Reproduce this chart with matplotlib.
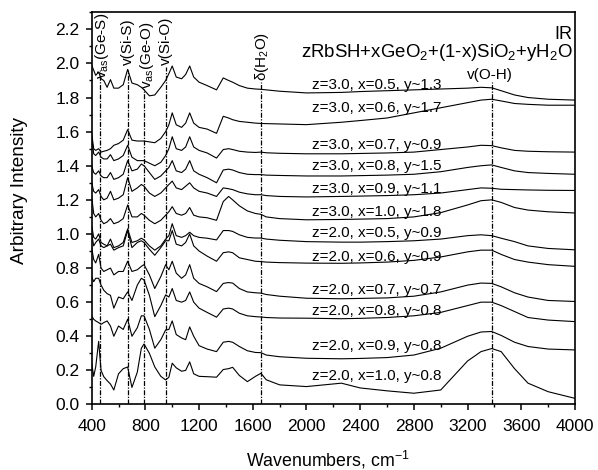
import matplotlib
matplotlib.use("Agg")
import matplotlib.pyplot as plt
from matplotlib.ticker import MultipleLocator

plt.rcParams['font.family'] = ['Liberation Sans', 'DejaVu Sans']
plt.rcParams['mathtext.fontset'] = 'custom'
plt.rcParams['mathtext.rm'] = 'Liberation Sans'
plt.rcParams['mathtext.it'] = 'Liberation Sans:italic'

# common wavenumber grid (cm-1)
wn = [400, 415, 430, 452, 470, 490, 515, 540, 565, 600,
      635, 668, 700, 740, 770, 790, 830, 870, 915, 951,
      975, 1000, 1030, 1070, 1100, 1130, 1160, 1200, 1260, 1330,
      1380, 1420, 1450, 1500, 1560, 1620, 1661, 1700, 1800, 2000,
      2260, 2400, 2600, 2800, 3000, 3200, 3300, 3380, 3450, 3550,
      3650, 3800, 4000]

s_z3_x05 = [1.99, 1.96, 1.93, 1.95, 1.91, 1.90, 1.86, 1.905, 1.855, 1.855,
            1.875, 1.965, 1.885, 1.875, 1.86, 1.845, 1.81, 1.815, 1.86, 1.90,
            1.94, 1.985, 1.92, 1.91, 1.935, 1.985, 1.92, 1.89, 1.87, 1.845,
            1.915, 1.90, 1.89, 1.87, 1.855, 1.85, 1.848, 1.845, 1.837, 1.827,
            1.83, 1.835, 1.84, 1.845, 1.85, 1.855, 1.86, 1.857, 1.84, 1.815,
            1.80, 1.79, 1.785]
s_z3_x06 = [1.59, 1.50, 1.49, 1.50, 1.48, 1.485, 1.49, 1.50, 1.52, 1.53,
            1.55, 1.612, 1.55, 1.545, 1.545, 1.545, 1.54, 1.535, 1.56, 1.60,
            1.64, 1.71, 1.64, 1.625, 1.65, 1.71, 1.65, 1.625, 1.615, 1.59,
            1.69, 1.68, 1.67, 1.66, 1.655, 1.65, 1.648, 1.647, 1.645, 1.641,
            1.655, 1.665, 1.68, 1.71, 1.74, 1.77, 1.785, 1.79, 1.78, 1.765,
            1.76, 1.755, 1.755]
s_z3_x07 = [1.57, 1.47, 1.46, 1.48, 1.45, 1.44, 1.44, 1.465, 1.43, 1.44,
            1.46, 1.52, 1.45, 1.43, 1.43, 1.43, 1.415, 1.40, 1.42, 1.46,
            1.50, 1.57, 1.50, 1.49, 1.51, 1.57, 1.51, 1.49, 1.475, 1.445,
            1.495, 1.50, 1.495, 1.485, 1.48, 1.478, 1.48, 1.476, 1.473, 1.47,
            1.47, 1.472, 1.475, 1.48, 1.495, 1.51, 1.52, 1.518, 1.505, 1.49,
            1.485, 1.482, 1.48]
s_z3_x08 = [1.40, 1.36, 1.35, 1.37, 1.34, 1.33, 1.33, 1.36, 1.32, 1.33,
            1.35, 1.43, 1.37, 1.38, 1.41, 1.40, 1.36, 1.32, 1.34, 1.37,
            1.39, 1.43, 1.37, 1.36, 1.38, 1.43, 1.37, 1.35, 1.33, 1.30,
            1.375, 1.38, 1.375, 1.36, 1.35, 1.348, 1.348, 1.345, 1.343, 1.34,
            1.34, 1.342, 1.345, 1.35, 1.365, 1.39, 1.40, 1.405, 1.39, 1.37,
            1.36, 1.355, 1.35]
s_z3_x09 = [1.30, 1.25, 1.24, 1.26, 1.22, 1.20, 1.21, 1.25, 1.20, 1.21,
            1.23, 1.33, 1.25, 1.27, 1.29, 1.28, 1.24, 1.22, 1.24, 1.27,
            1.29, 1.31, 1.27, 1.26, 1.28, 1.30, 1.27, 1.25, 1.24, 1.22,
            1.27, 1.265, 1.26, 1.245, 1.235, 1.23, 1.23, 1.225, 1.22, 1.217,
            1.22, 1.222, 1.225, 1.23, 1.24, 1.26, 1.27, 1.268, 1.262, 1.26,
            1.258, 1.256, 1.255]
s_z3_x10 = [1.22, 1.12, 1.10, 1.12, 1.08, 1.06, 1.07, 1.09, 1.06, 1.07,
            1.09, 1.17, 1.10, 1.10, 1.12, 1.11, 1.08, 1.06, 1.08, 1.11,
            1.13, 1.16, 1.12, 1.11, 1.12, 1.155, 1.11, 1.10, 1.095, 1.08,
            1.19, 1.22, 1.20, 1.165, 1.135, 1.12, 1.115, 1.10, 1.09, 1.083,
            1.085, 1.087, 1.09, 1.10, 1.125, 1.17, 1.195, 1.20, 1.185, 1.155,
            1.14, 1.13, 1.123]
s_z2_x05 = [1.05, 0.98, 0.97, 1.00, 0.95, 0.94, 0.93, 0.97, 0.92, 0.93,
            0.95, 1.03, 0.95, 0.96, 0.975, 0.965, 0.93, 0.905, 0.93, 0.97,
            0.99, 1.06, 0.99, 0.98, 0.99, 1.01, 0.99, 0.98, 0.975, 0.965,
            1.02, 1.02, 1.015, 0.995, 0.98, 0.976, 0.976, 0.97, 0.963, 0.955,
            0.952, 0.952, 0.955, 0.96, 0.97, 0.99, 0.995, 0.99, 0.975, 0.955,
            0.93, 0.915, 0.907]
s_z2_x06 = [1.00, 0.93, 0.95, 0.97, 0.93, 0.92, 0.93, 0.94, 0.905, 0.92,
            0.93, 1.02, 0.92, 0.95, 0.96, 0.95, 0.91, 0.875, 0.92, 0.96,
            0.96, 1.02, 0.94, 0.93, 0.95, 1.00, 0.93, 0.90, 0.87, 0.84,
            0.89, 0.895, 0.89, 0.86, 0.85, 0.84, 0.838, 0.835, 0.832, 0.829,
            0.828, 0.83, 0.835, 0.845, 0.865, 0.895, 0.905, 0.905, 0.88, 0.85,
            0.835, 0.82, 0.81]
s_z2_x07 = [0.92, 0.85, 0.83, 0.88, 0.80, 0.78, 0.79, 0.80, 0.76, 0.78,
            0.78, 0.84, 0.78, 0.79, 0.81, 0.82, 0.76, 0.68, 0.75, 0.82,
            0.79, 0.84, 0.77, 0.74, 0.76, 0.82, 0.74, 0.71, 0.69, 0.662,
            0.71, 0.715, 0.712, 0.68, 0.66, 0.655, 0.653, 0.645, 0.635, 0.623,
            0.62, 0.622, 0.625, 0.635, 0.66, 0.70, 0.712, 0.71, 0.69, 0.655,
            0.63, 0.61, 0.604]
s_z2_x08 = [0.75, 0.72, 0.74, 0.74, 0.70, 0.67, 0.65, 0.64, 0.565, 0.63,
            0.62, 0.66, 0.61, 0.70, 0.74, 0.73, 0.64, 0.515, 0.58, 0.643,
            0.63, 0.68, 0.61, 0.60, 0.61, 0.66, 0.60, 0.565, 0.54, 0.512,
            0.56, 0.565, 0.56, 0.535, 0.52, 0.515, 0.513, 0.51, 0.507, 0.506,
            0.503, 0.505, 0.51, 0.52, 0.54, 0.58, 0.60, 0.60, 0.58, 0.545,
            0.51, 0.495, 0.486]
s_z2_x09 = [0.52, 0.50, 0.49, 0.48, 0.47, 0.48, 0.49, 0.46, 0.40, 0.46,
            0.44, 0.50, 0.40, 0.45, 0.52, 0.52, 0.44, 0.33, 0.38, 0.437,
            0.44, 0.49, 0.41, 0.39, 0.38, 0.455, 0.40, 0.345, 0.325, 0.31,
            0.365, 0.37, 0.365, 0.34, 0.315, 0.305, 0.304, 0.29, 0.28, 0.271,
            0.268, 0.27, 0.275, 0.29, 0.33, 0.40, 0.425, 0.428, 0.405, 0.365,
            0.34, 0.325, 0.32]
s_z2_x10 = [0.242, 0.165, 0.22, 0.37, 0.20, 0.163, 0.14, 0.12, 0.085, 0.18,
            0.21, 0.22, 0.10, 0.19, 0.33, 0.355, 0.30, 0.22, 0.165, 0.144,
            0.16, 0.242, 0.215, 0.195, 0.20, 0.25, 0.18, 0.165, 0.163, 0.16,
            0.205, 0.21, 0.218, 0.17, 0.134, 0.165, 0.183, 0.145, 0.115, 0.105,
            0.125, 0.097, 0.08, 0.066, 0.085, 0.255, 0.31, 0.328, 0.31, 0.21,
            0.125, 0.075, 0.036]

spectra = [s_z3_x05, s_z3_x06, s_z3_x07, s_z3_x08, s_z3_x09, s_z3_x10,
           s_z2_x05, s_z2_x06, s_z2_x07, s_z2_x08, s_z2_x09, s_z2_x10]

series_labels = ["z=3.0, x=0.5, y~1.3", "z=3.0, x=0.6, y~1.7", "z=3.0, x=0.7, y~0.9",
                 "z=3.0, x=0.8, y~1.5", "z=3.0, x=0.9, y~1.1", "z=3.0, x=1.0, y~1.8",
                 "z=2.0, x=0.5, y~0.9", "z=2.0, x=0.6, y~0.9", "z=2.0, x=0.7, y~0.7",
                 "z=2.0, x=0.8, y~0.8", "z=2.0, x=0.9, y~0.8", "z=2.0, x=1.0, y~0.8"]
label_y = [1.876, 1.739, 1.524, 1.40, 1.265, 1.13, 1.007, 0.866, 0.672, 0.549, 0.343, 0.167]

band_pos = [462, 668, 790, 951, 1661, 3380]
band_top = [1.96, 1.96, 1.85, 1.98, 1.89, 1.89]
band_names = ["v$_{\\rm as}$(Ge-S)", "v(Si-S)", "v$_{\\rm as}$(Ge-O)", "v(Si-O)",
              "δ(H$_2$O)", "v(O-H)"]
band_text_x = [474, 673, 810, 951, 1665, 3366]
band_text_y = [2.105, 2.126, 2.052, 2.13, 2.043, 1.935]
band_rot = [90, 90, 90, 90, 90, 0]

fig = plt.figure(figsize=(5.98, 4.70), dpi=100)
ax = fig.add_axes([0.1533, 0.1394, 0.8082, 0.8345])

for s in spectra:
    ax.plot(wn, s, color='black', lw=0.8)

for x, top in zip(band_pos, band_top):
    ax.plot([x, x], [0, top], color='black', lw=0.9, ls=(0, (4, 1.2, 1, 1.2)))

for name, tx, ty, rot in zip(band_names, band_text_x, band_text_y, band_rot):
    ax.text(tx, ty, name, rotation=rot, ha='center', va='center', fontsize=11)

for lab, ly in zip(series_labels, label_y):
    ax.text(2038, ly, lab, ha='left', va='center', fontsize=11)

ax.text(0.995, 0.933, "IR", transform=ax.transAxes, ha='right', va='baseline', fontsize=13)
ax.text(0.995, 0.887, "zRbSH+xGeO$_2$+(1-x)SiO$_2$+yH$_2$O", transform=ax.transAxes,
        ha='right', va='baseline', fontsize=13.4)

ax.set_xlim(400, 4000)
ax.set_ylim(0, 2.3)
ax.xaxis.set_major_locator(MultipleLocator(400))
ax.xaxis.set_minor_locator(MultipleLocator(200))
ax.yaxis.set_major_locator(MultipleLocator(0.2))
ax.yaxis.set_minor_locator(MultipleLocator(0.1))
ax.yaxis.set_major_formatter(plt.FormatStrFormatter('%.1f'))
ax.tick_params(which='major', direction='out', length=4.3, width=1.1, labelsize=12.5)
ax.tick_params(which='minor', direction='out', length=2.3, width=1.0)
ax.tick_params(axis='x', which='major', pad=6)
ax.tick_params(axis='y', which='major', pad=4.5)
ax.tick_params(top=False, right=False)
for sp in ax.spines.values():
    sp.set_linewidth(1.2)

fig.text(328 / 598, 1 - 460 / 470, "Wavenumbers, cm$^{-1}$", fontsize=12.8,
         ha='center', va='center')
fig.text(20 / 598, 1 - 191 / 470, "Arbitrary Intensity", fontsize=13.7,
         ha='center', va='center', rotation=90)

fig.savefig("out.png", dpi=100)
